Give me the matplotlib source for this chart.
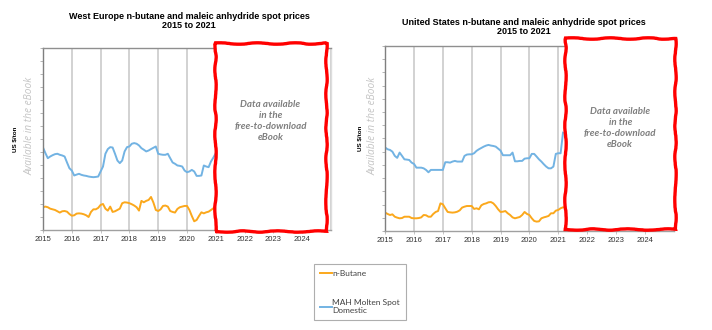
import matplotlib
matplotlib.use('Agg')
import matplotlib.pyplot as plt
from matplotlib.patches import Rectangle
import matplotlib.transforms as mtransforms
import numpy as np

# Monthly spot prices from Jan 2015 (US $/ton)
we_butane = [175, 180, 175, 164, 159, 154, 144, 134, 144, 146, 141, 123,
             110, 113, 126, 128, 126, 121, 113, 100, 139, 159, 159, 170,
             193, 200, 164, 149, 180, 139, 144, 154, 164, 206, 213, 211,
             206, 198, 188, 175, 149, 224, 213, 224, 231, 254, 211, 154,
             146, 159, 185, 188, 180, 146, 139, 134, 162, 175, 180, 185,
             185, 154, 108, 67, 77, 108, 136, 128, 136, 141, 154, 167,
             188, 206]
we_mah = [634, 591, 552, 565, 575, 583, 586, 578, 573, 565, 519, 475,
          457, 419, 426, 432, 424, 419, 416, 411, 408, 406, 408, 411,
          450, 488, 586, 622, 637, 634, 586, 534, 514, 534, 604, 637,
          642, 663, 668, 663, 650, 629, 617, 604, 611, 622, 632, 642,
          586, 581, 578, 578, 586, 552, 519, 509, 496, 493, 488, 457,
          444, 450, 462, 450, 416, 416, 419, 496, 488, 483, 527, 557,
          591, 612]
us_butane = [139, 129, 121, 126, 108, 101, 96, 98, 108, 108, 108, 98,
             96, 96, 98, 103, 121, 119, 108, 108, 129, 144, 151, 209,
             202, 172, 144, 141, 139, 141, 146, 156, 177, 184, 189, 189,
             189, 167, 172, 164, 194, 204, 209, 217, 219, 209, 189, 164,
             144, 146, 151, 134, 121, 103, 96, 101, 106, 121, 144, 129,
             121, 96, 76, 71, 73, 96, 103, 108, 114, 134, 134, 154,
             159, 172, 179]
us_mah = [631, 618, 613, 600, 568, 553, 593, 568, 542, 540, 537, 517,
          507, 479, 479, 479, 474, 462, 444, 462, 462, 462, 462, 462,
          462, 520, 520, 517, 525, 530, 525, 525, 525, 568, 578, 580,
          580, 588, 606, 618, 628, 638, 646, 651, 646, 643, 638, 623,
          608, 573, 573, 573, 573, 593, 527, 527, 530, 530, 547, 550,
          550, 583, 583, 563, 542, 525, 505, 487, 474, 474, 487, 583,
          588, 588, 744]

years = list(range(2015, 2025))
series_labels = ['n-Butane', 'MAH Molten Spot\nDomestic']
titles = ['West Europe n-butane and maleic anhydride spot prices\n2015 to 2021',
          'United States n-butane and maleic anhydride spot prices\n2015 to 2021']
box_text = 'Data available\nin the\nfree-to-download\neBook'

ORANGE = '#FBA81C'
BLUE = '#72B3E3'
GRAY_TXT = '#7f7f7f'

fig = plt.figure(figsize=(7.12, 3.30), dpi=100)
fig.patch.set_facecolor('white')


def draw_panel(rect, butane, mah, title, title_x, title_y, box_x, box_y, txt_pos,
               ylab_x, avail_x):
    ax = fig.add_axes(rect)
    t_b = 2015 + np.arange(len(butane)) / 12
    t_m = 2015 + np.arange(len(mah)) / 12
    for yr in years[1:] + [2025]:
        ax.axvline(yr, color='#cfcfcf', lw=1.3, zorder=0)
    lb, = ax.plot(t_b, butane, color=ORANGE, lw=1.4, zorder=2)
    lm, = ax.plot(t_m, mah, color=BLUE, lw=1.4, zorder=2)

    ax.set_xlim(2015, 2025)
    ax.set_ylim(0, 1400)
    ax.set_xticks(years)
    ax.set_xticklabels([str(y) for y in years], fontsize=5.5,
                       family='Liberation Sans', color='#333333')
    ax.set_yticks(np.arange(0, 1401, 100))
    ax.set_yticklabels([])
    ax.tick_params(axis='y', length=2.5, width=0.6, color='#aaaaaa', direction='out')
    ax.tick_params(axis='x', length=2, width=0.6, color='#bbbbbb', pad=2)

    ax.spines['left'].set_color('#7f7f7f')
    ax.spines['top'].set_color('#8f8f8f')
    ax.spines['bottom'].set_color('#a0a0a0')
    ax.spines['right'].set_color('#dddddd')
    for s in ax.spines.values():
        s.set_linewidth(1.0)

    # white panel with a hand-drawn red frame over the forecast years
    trans = mtransforms.blended_transform_factory(ax.transData, ax.transAxes)
    box = Rectangle((box_x[0], box_y[0]), box_x[1] - box_x[0], box_y[1] - box_y[0],
                    transform=trans, facecolor='white', edgecolor='#FF0000',
                    lw=2.4, clip_on=False, zorder=5)
    box.set_sketch_params(scale=0.7, length=45, randomness=3)
    ax.add_patch(box)
    ax.text(txt_pos[0], txt_pos[1], box_text, transform=trans, ha='center', va='center',
            fontsize=7.0, style='italic', fontweight='bold', color=GRAY_TXT,
            family='Lato', linespacing=1.3, zorder=6)

    fig.text(title_x, title_y, title, ha='center', va='center',
             fontsize=6.5, fontweight='bold', family='Liberation Sans',
             linespacing=1.1)
    fig.text(ylab_x, rect[1] + rect[3] * 0.5, 'US $/ton', rotation=90, ha='center',
             va='center', fontsize=4.5, fontweight='bold', family='Liberation Sans')
    fig.text(avail_x, rect[1] + rect[3] * 0.57, 'Available in the eBook', rotation=90,
             ha='center', va='center', fontsize=7.3, style='italic',
             color='#c4c4c4', family='Open Sans')
    return lb, lm


lb, lm = draw_panel([0.0604, 0.303, 0.4045, 0.552], we_butane, we_mah, titles[0],
                    189 / 712, 1 - 21 / 330,
                    (2020.97, 2024.83), (-0.005, 1.027), (2022.9, 0.60),
                    0.021, 0.042)
draw_panel([0.541, 0.300, 0.405, 0.561], us_butane, us_mah, titles[1],
           524 / 712, 1 - 27 / 330,
           (2021.23, 2025.04), (0.011, 1.043), (2023.15, 0.555),
           0.506, 0.524)

leg = fig.legend([lb, lm], series_labels, loc='center',
                 bbox_to_anchor=(360 / 712, 1 - 292 / 330), frameon=True,
                 fancybox=False, labelspacing=2.7,
                 handlelength=1.4, handletextpad=0.1, borderpad=0.7,
                 prop={'family': 'Lato', 'size': 6.0})
leg.get_frame().set_edgecolor('#9a9a9a')
leg.get_frame().set_linewidth(0.8)
for txt in leg.get_texts():
    txt.set_color('#404040')

fig.savefig('out.png', dpi=100, facecolor='white')
plt.close(fig)
